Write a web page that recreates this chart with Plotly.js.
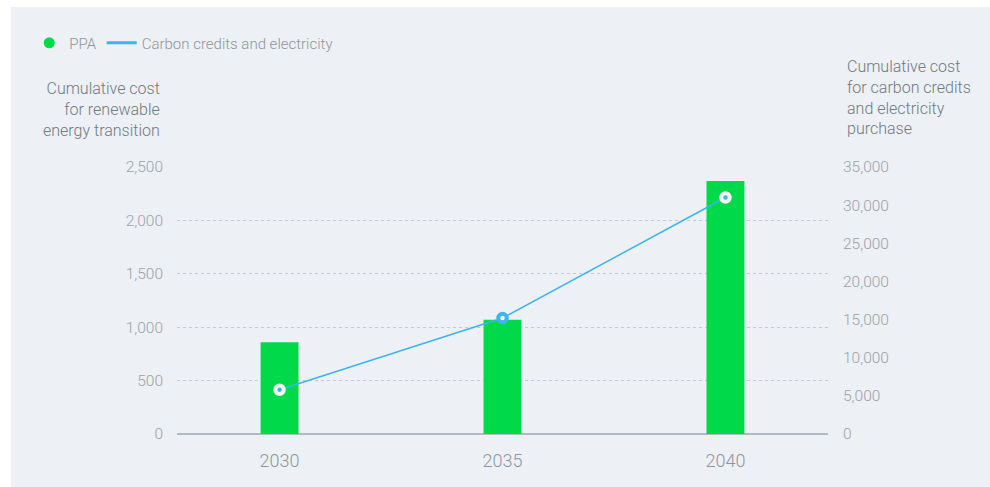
<!DOCTYPE html>
<html>
<head>
<meta charset="utf-8">
<script src="https://cdn.plot.ly/plotly-3.0.1.min.js"></script>
<style>
  html, body { margin: 0; padding: 0; background: #ffffff; }
  #chart { position: absolute; left: 11px; top: 7px; width: 979px; height: 480px; }
</style>
</head>
<body>
<div id="chart"></div>
<script>
const years = ['2030', '2035', '2040'];
const ppaValues = [860, 1070, 2370];
const carbonValues = [5800, 15200, 31000];
const leftTicks = [0, 500, 1000, 1500, 2000, 2500];
const rightTicks = [0, 5000, 10000, 15000, 20000, 25000, 30000, 35000];
const seriesNames = ['PPA', 'Carbon credits and electricity'];
const leftTitle = 'Cumulative cost<br>for renewable<br>energy transition';
const rightTitle = 'Cumulative cost<br>for carbon credits<br>and electricity<br>purchase';

const green = '#00d94a';
const blue = '#3cb5ee';
const bg = '#edf0f4';
const tickColor = '#9aa2a9';
const titleColor = '#6f7a82';
const fontFam = 'Roboto, "Noto Sans", sans-serif';

const fmt = v => v.toLocaleString('en-US');

const traces = [
  {
    type: 'bar', x: years, y: ppaValues, name: seriesNames[0],
    marker: { color: green }, width: 0.17, showlegend: false, hoverinfo: 'x+y'
  },
  {
    type: 'scatter', mode: 'lines+markers', x: years, y: carbonValues, yaxis: 'y2',
    name: seriesNames[1], showlegend: false,
    line: { color: blue, width: 1.5 },
    marker: {
      size: 8.5,
      color: [blue, '#ffffff', blue],
      line: { color: ['#f4f6f8', blue, '#f4f6f8'], width: 4 }
    }
  },
  {
    type: 'scatter', mode: 'markers', x: [null], y: [null], name: seriesNames[0],
    marker: { color: green, size: 11 }
  },
  {
    type: 'scatter', mode: 'lines', x: [null], y: [null], name: seriesNames[1],
    line: { color: blue, width: 3 }
  }
];

const layout = {
  width: 979, height: 480,
  paper_bgcolor: bg, plot_bgcolor: bg,
  margin: { l: 166, r: 162, t: 160, b: 53, autoexpand: false },
  font: { family: fontFam, color: tickColor },
  showlegend: true,
  legend: {
    orientation: 'h', x: -0.227, y: 1.464, xanchor: 'left', yanchor: 'middle',
    font: { size: 15, color: '#8d969d', family: fontFam, weight: 300 },
    bgcolor: 'rgba(0,0,0,0)', itemwidth: 30, tracegroupgap: 0
  },
  xaxis: {
    type: 'category', range: [-0.46, 2.46],
    showgrid: false, zeroline: false, showline: false,
    ticks: '', tickfont: { size: 18, color: '#8d969d', family: fontFam, weight: 300 },
    ticklabelstandoff: 14
  },
  yaxis: {
    range: [0, 2500], tickvals: leftTicks, ticktext: leftTicks.map(fmt),
    showgrid: true, gridcolor: '#c3c9cf', griddash: '3px,3px', gridwidth: 1,
    zeroline: true, zerolinecolor: '#b2bac1', zerolinewidth: 1.5,
    showline: false, ticks: '',
    tickfont: { size: 15.5, color: tickColor, family: fontFam, weight: 300 },
    ticklabelstandoff: 13
  },
  yaxis2: {
    range: [0, 35000], tickvals: rightTicks, ticktext: rightTicks.map(fmt),
    overlaying: 'y', side: 'right',
    showgrid: false, zeroline: false, showline: false, ticks: '',
    tickfont: { size: 15.5, color: tickColor, family: fontFam, weight: 300 },
    ticklabelstandoff: 14
  },
  annotations: [
    {
      xref: 'paper', yref: 'paper', x: -0.023, y: 1.337, xanchor: 'right', yanchor: 'top',
      text: leftTitle, showarrow: false, align: 'right',
      font: { size: 16, color: titleColor, family: fontFam, weight: 300 }
    },
    {
      xref: 'paper', yref: 'paper', x: 1.026, y: 1.419, xanchor: 'left', yanchor: 'top',
      text: rightTitle, showarrow: false, align: 'left',
      font: { size: 16, color: titleColor, family: fontFam, weight: 300 }
    }
  ]
};

Plotly.newPlot('chart', traces, layout, { displayModeBar: false, responsive: false });
</script>
</body>
</html>
